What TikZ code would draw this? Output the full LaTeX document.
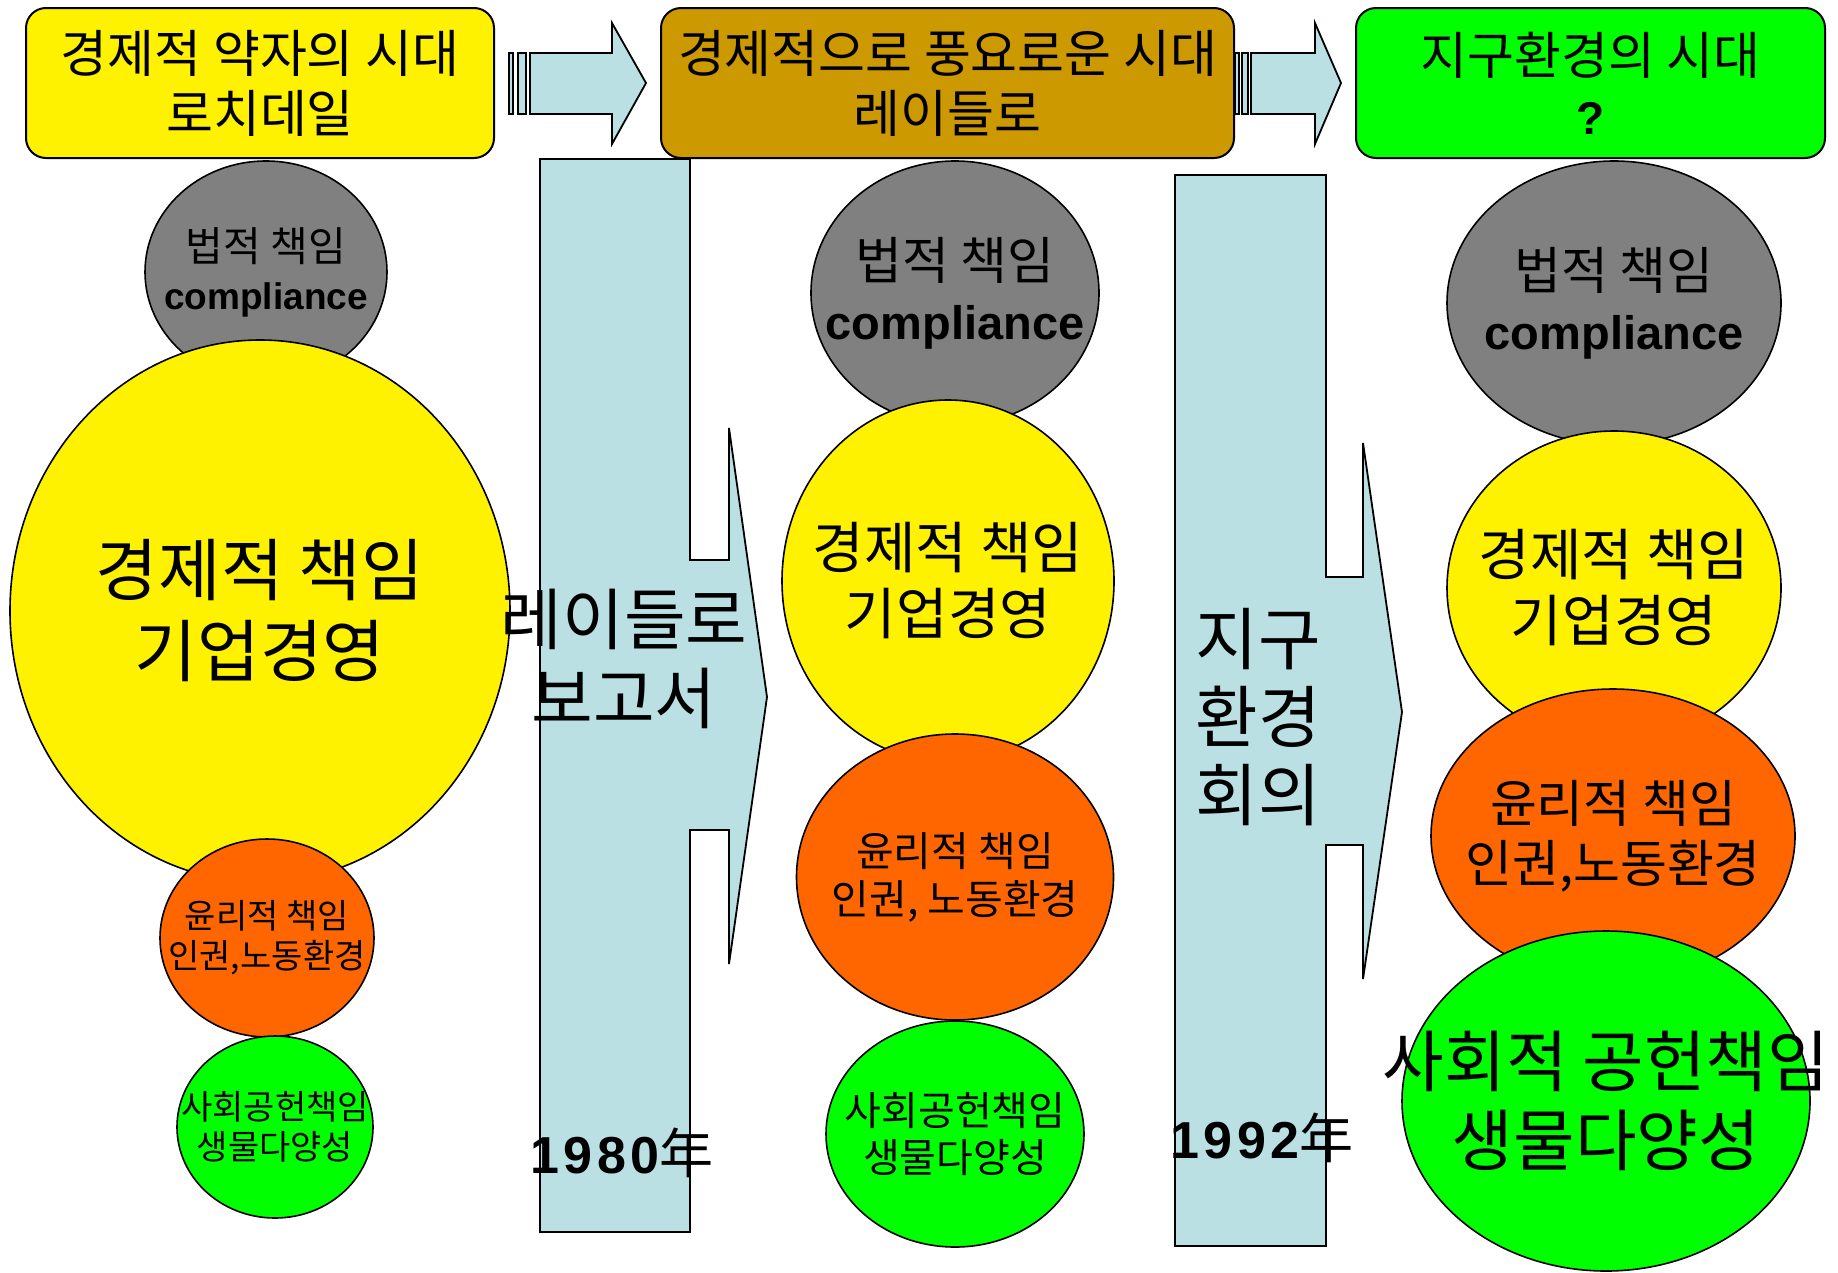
\documentclass[tikz,border=0pt]{standalone}
\usepackage{fontspec}
\setmainfont{Noto Sans CJK KR}
\newfontfamily\arialfont{Liberation Sans}
\newfontfamily\yearfont[LetterSpace=8]{Liberation Sans}
\usetikzlibrary{shapes.geometric}
\definecolor{lblue}{HTML}{BBE0E3}
\definecolor{gold}{HTML}{CC9900}
\definecolor{orng}{HTML}{FF6600}
\definecolor{lgrn}{HTML}{00FF00}
\definecolor{grayc}{HTML}{808080}
\newcommand\fs[2]{\fontsize{#1}{#2}\selectfont}
\newcommand\bt[2]{{\arialfont\bfseries\fontsize{#1}{#1}\selectfont #2}}
\newcommand\yr[2]{{\yearfont\bfseries\fontsize{#1}{#1}\selectfont #2}}
\tikzset{
  circ/.style={ellipse, draw=black, line width=1.6pt, inner sep=0pt},
  hdr/.style={rectangle, rounded corners=20pt, draw=black, line width=2pt, inner sep=0pt},
  blk/.style={fill=lblue, draw=black, line width=1.8pt},
  lbl/.style={align=center, inner sep=0pt}
}

\begin{document}
\begin{tikzpicture}[x=1pt,y=-1pt]
        \useasboundingbox (0,0) rectangle (1838,1272);
        %\label{csr_circles}
        \node[circ, fill=grayc, minimum width=242pt, minimum height=222pt] (law1) at (266,272) {};
        \node[circ, fill=yellow, minimum width=500pt, minimum height=542pt] (eco1) at (260,611) {};
        \node[circ, fill=orng, minimum width=214pt, minimum height=198pt] (eth1) at (267,938) {};
        \node[circ, fill=lgrn, minimum width=196pt, minimum height=182pt] (soc1) at (275,1127) {};
        \node[circ, fill=grayc, minimum width=288pt, minimum height=264pt] (law2) at (955,293) {};
        \node[circ, fill=yellow, minimum width=332pt, minimum height=362pt] (eco2) at (948,581) {};
        \node[circ, fill=orng, minimum width=317pt, minimum height=286pt] (eth2) at (955,877) {};
        \node[circ, fill=lgrn, minimum width=258pt, minimum height=226pt] (soc2) at (955,1134) {};
        \node[circ, fill=grayc, minimum width=334pt, minimum height=284pt] (law3) at (1614,303) {};
        \node[circ, fill=yellow, minimum width=334pt, minimum height=314pt] (eco3) at (1614,588) {};
        \node[circ, fill=orng, minimum width=364pt, minimum height=294pt] (eth3) at (1613,836) {};
        \node[circ, fill=lgrn, minimum width=408pt, minimum height=340pt] (soc3) at (1606,1101) {};

        \filldraw[blk] (540,159) -- (690,159) -- (690,560) -- (729,560) -- (729,428) -- (767,697)
            -- (729,964) -- (729,830) -- (690,830) -- (690,1232) -- (540,1232) -- cycle;
        \filldraw[blk] (1175,175) -- (1326,175) -- (1326,577) -- (1363,577) -- (1363,443) -- (1402,712)
            -- (1363,979) -- (1363,845) -- (1326,845) -- (1326,1246) -- (1175,1246) -- cycle;

        \node[hdr, fill=yellow, minimum width=468pt, minimum height=150pt] (era1) at (260,83) {};
        \node[hdr, fill=gold, minimum width=573pt, minimum height=150pt] (era2) at (947.5,83) {};
        \node[hdr, fill=lgrn, minimum width=469pt, minimum height=150pt] (era3) at (1590.5,83) {};

        \filldraw[blk] (509,53) rectangle (513,114);
        \filldraw[blk] (518,53) rectangle (526,114);
        \filldraw[blk] (530,53) -- (612,53) -- (612,23) -- (646,83) -- (612,144) -- (612,114) -- (530,114) -- cycle;
        \filldraw[blk] (1235,53) rectangle (1239,114);
        \filldraw[blk] (1242,53) rectangle (1248,114);
        \filldraw[blk] (1251,53) -- (1315,53) -- (1315,23) -- (1341,83) -- (1315,144) -- (1315,114) -- (1251,114) -- cycle;

        \node[lbl, font=\fs{51}{60}] (t1) at (era1) {경제적 약자의 시대\\로치데일};
        \node[lbl, font=\fs{51}{60}] (t2) at (era2) {경제적으로 풍요로운 시대\\레이들로};
        \node[lbl, font=\fs{51}{60}] (t3) at (era3) {지구환경의 시대\\\bt{46}{?}};

        \node[lbl, font=\fs{41}{48}] (tl1) at (law1) {법적 책임\\\bt{37}{compliance}};
        \node[lbl, font=\fs{68}{81}] (te1) at (eco1) {경제적 책임\\기업경영};
        \node[lbl, font=\fs{34}{40}] (th1) at (eth1) {윤리적 책임\\인권,노동환경};
        \node[lbl, font=\fs{34}{40}] (ts1) at (soc1) {사회공헌책임\\생물다양성};
        \node[lbl, font=\fs{51}{60}] (tl2) at (law2) {법적 책임\\\bt{47}{compliance}};
        \node[lbl, font=\fs{56}{66}] (te2) at (eco2) {경제적 책임\\기업경영};
        \node[lbl, font=\fs{41}{48}] (th2) at (eth2) {윤리적 책임\\인권, 노동환경};
        \node[lbl, font=\fs{40}{47}] (ts2) at (soc2) {사회공헌책임\\생물다양성};
        \node[lbl, font=\fs{51}{60}] (tl3) at (law3) {법적 책임\\\bt{47}{compliance}};
        \node[lbl, font=\fs{56}{66}] (te3) at (eco3) {경제적 책임\\기업경영};
        \node[lbl, font=\fs{51}{60}] (th3) at (eth3) {윤리적 책임\\인권,노동환경};
        \node[lbl, font=\fs{67}{79}] (ts3) at (soc3) {사회적 공헌책임\\생물다양성};

        \node[lbl, font=\fs{67}{79}] (rep) at (624,659) {레이들로\\보고서};
        \node[lbl, font=\fs{54}{60}] (y1) at (622,1153) {\yr{52}{1980}年};
        \node[lbl, font=\fs{68}{78}] (conf) at (1258,717) {지구\\환경\\회의};
        \node[lbl, font=\fs{54}{60}] (y2) at (1262,1138) {\yr{52}{1992}年};
\end{tikzpicture}
\end{document}
